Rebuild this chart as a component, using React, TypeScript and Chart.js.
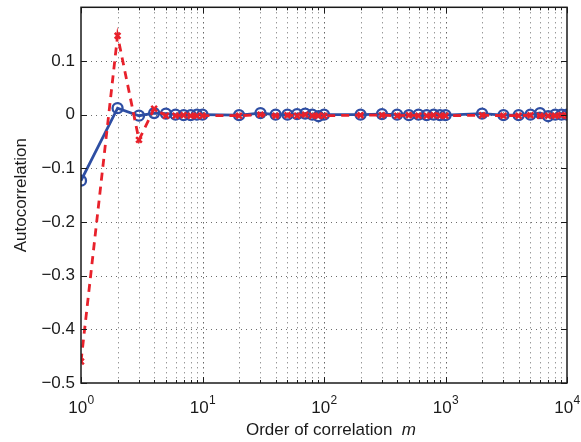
import React, { useEffect, useRef } from "react";
import { Chart, registerables } from "chart.js";

Chart.register(...registerables);

const mValues = [1, 2, 3, 4, 5, 6, 7, 8, 9, 10, 20, 30, 40, 50, 60, 70, 80, 90, 100, 200, 300, 400, 500, 600, 700, 800, 900, 1000, 2000, 3000, 4000, 5000, 6000, 7000, 8000, 9000, 10000];
const blueValues = [-0.123, 0.012, -0.002, 0.003, 0.002, 0.0, -0.001, -0.001, 0.0, 0.0, -0.001, 0.003, 0.0, 0.0, 0.001, 0.002, 0.0, -0.003, 0.0, 0.0, 0.001, 0.0, -0.001, 0.0, -0.001, 0.0, -0.001, -0.001, 0.002, -0.001, -0.001, 0.0, 0.003, -0.003, 0.0, 0.0, 0.0];
const redValues = [-0.46, 0.147, -0.047, 0.011, -0.002, -0.002, -0.001, -0.002, -0.002, -0.002, -0.002, 0.0, -0.002, -0.001, -0.002, 0.0, -0.002, -0.002, -0.002, -0.001, -0.001, -0.002, -0.001, -0.002, -0.002, -0.001, -0.002, -0.002, -0.001, -0.002, -0.002, -0.001, -0.002, -0.002, -0.002, -0.001, -0.002];
const xDecades = [0, 1, 2, 3, 4];
const yTicks = [-0.5, -0.4, -0.3, -0.2, -0.1, 0, 0.1, 0.2];
const xTitle = "Order of correlation  ";
const xTitleVar = "m";
const yTitle = "Autocorrelation";

const FONT = "'Liberation Sans', Arial, Helvetica, sans-serif";
const TEXT = "#1a1a1a";

const decorPlugin = {
  id: "decor",
  beforeDatasetsDraw(chart: any) {
    const { ctx, chartArea: a, scales } = chart;
    const xs = scales.x;
    const ys = scales.y;
    ctx.save();
    ctx.strokeStyle = "rgba(60,60,60,0.75)";
    ctx.lineWidth = 1;
    ctx.setLineDash([1, 4]);
    for (let p = 0; p < 4; p++) {
      for (let k = 1; k <= 10; k++) {
        const v = k * Math.pow(10, p);
        const x = Math.round(xs.getPixelForValue(v)) + 0.5;
        if (x <= a.left + 1 || x >= a.right - 1) continue;
        ctx.beginPath();
        ctx.moveTo(x, a.top);
        ctx.lineTo(x, a.bottom);
        ctx.stroke();
      }
    }
    for (const t of yTicks) {
      const y = Math.round(ys.getPixelForValue(t)) + 0.5;
      if (y <= a.top + 1 || y >= a.bottom - 1) continue;
      ctx.beginPath();
      ctx.moveTo(a.left, y);
      ctx.lineTo(a.right, y);
      ctx.stroke();
    }
    ctx.restore();
  },
  afterDraw(chart: any) {
    const { ctx, chartArea: a, scales } = chart;
    const xs = scales.x;
    const ys = scales.y;
    ctx.save();
    ctx.setLineDash([]);
    ctx.strokeStyle = "#1a1a1a";
    ctx.lineWidth = 1.5;
    ctx.strokeRect(a.left, a.top, a.right - a.left, a.bottom - a.top);
    ctx.lineWidth = 1;
    for (let p = 0; p < 4; p++) {
      for (let k = 1; k <= 10; k++) {
        const v = k * Math.pow(10, p);
        const x = Math.round(xs.getPixelForValue(v)) + 0.5;
        const len = k === 1 || k === 10 ? 6 : 3;
        ctx.beginPath();
        ctx.moveTo(x, a.bottom);
        ctx.lineTo(x, a.bottom - len);
        ctx.moveTo(x, a.top);
        ctx.lineTo(x, a.top + len);
        ctx.stroke();
      }
    }
    for (const t of yTicks) {
      const y = Math.round(ys.getPixelForValue(t)) + 0.5;
      ctx.beginPath();
      ctx.moveTo(a.left, y);
      ctx.lineTo(a.left + 6, y);
      ctx.moveTo(a.right, y);
      ctx.lineTo(a.right - 6, y);
      ctx.stroke();
    }
    ctx.fillStyle = TEXT;
    ctx.textBaseline = "alphabetic";
    ctx.textAlign = "left";
    for (const p of xDecades) {
      const x = xs.getPixelForValue(Math.pow(10, p));
      ctx.font = `17px ${FONT}`;
      const w1 = ctx.measureText("10").width;
      ctx.font = `12px ${FONT}`;
      const w2 = ctx.measureText(String(p)).width;
      const start = x - (w1 + w2) / 2;
      ctx.font = `17px ${FONT}`;
      ctx.fillText("10", start, 413);
      ctx.font = `12px ${FONT}`;
      ctx.fillText(String(p), start + w1 + 0.5, 404);
    }
    ctx.font = `17px ${FONT}`;
    const wt = ctx.measureText(xTitle).width;
    ctx.font = `italic 17px ${FONT}`;
    const wm = ctx.measureText(xTitleVar).width;
    const cx = 331;
    const sx = cx - (wt + wm) / 2;
    ctx.font = `17px ${FONT}`;
    ctx.fillText(xTitle, sx, 435);
    ctx.font = `italic 17px ${FONT}`;
    ctx.fillText(xTitleVar, sx + wt, 435);
    ctx.font = `17px ${FONT}`;
    ctx.translate(26, (a.top + a.bottom) / 2);
    ctx.rotate(-Math.PI / 2);
    ctx.textAlign = "center";
    ctx.fillText(yTitle, 0, 0);
    ctx.restore();
  },
};

export default function App() {
  const ref = useRef<HTMLCanvasElement | null>(null);
  useEffect(() => {
    if (!ref.current) return;
    const chart = new Chart(ref.current, {
      type: "line",
      data: {
        labels: mValues,
        datasets: [
          {
            label: "red",
            data: mValues.map((m, i) => ({ x: m, y: redValues[i] })),
            borderColor: "#e8212b",
            backgroundColor: "#e8212b",
            borderWidth: 2.8,
            borderDash: [8, 6],
            pointStyle: "crossRot",
            pointRadius: 4,
            pointBorderWidth: 2.5,
            pointBorderColor: "#e8212b",
            tension: 0,
          },
          {
            label: "blue",
            data: mValues.map((m, i) => ({ x: m, y: blueValues[i] })),
            borderColor: "#2e4ea3",
            backgroundColor: "rgba(0,0,0,0)",
            borderWidth: 2.8,
            pointStyle: "circle",
            pointRadius: 5,
            pointBorderWidth: 2.3,
            pointBorderColor: "#2e4ea3",
            pointBackgroundColor: "rgba(0,0,0,0)",
            tension: 0,
          },
        ],
      },
      options: {
        responsive: false,
        animation: false,
        events: [],
        layout: { padding: { left: 0, right: 14, top: 5, bottom: 0 } },
        plugins: { legend: { display: false }, tooltip: { enabled: false }, title: { display: false } },
        scales: {
          x: {
            type: "logarithmic",
            min: 1,
            max: 10000,
            grid: { display: false, drawTicks: false },
            border: { display: false },
            ticks: { display: false },
            afterFit: (s: any) => {
              s.height = 59;
              s.paddingLeft = 0;
              s.paddingRight = 0;
            },
          },
          y: {
            type: "linear",
            min: -0.5,
            max: 0.2,
            grid: { display: false, drawTicks: false },
            border: { display: false },
            ticks: {
              stepSize: 0.1,
              padding: 6,
              color: TEXT,
              font: { family: FONT, size: 17 },
              callback: (v: any) => {
                const r = Math.round(Number(v) * 10) / 10;
                if (r > 0.15) return "";
                if (r === 0) return "0";
                return (r < 0 ? "\u2212" : "") + Math.abs(r).toFixed(1);
              },
            },
            afterFit: (s: any) => {
              s.width = 81;
              s.paddingTop = 0;
              s.paddingBottom = 0;
            },
          },
        },
      },
      plugins: [decorPlugin],
    });
    return () => chart.destroy();
  }, []);
  return (
    <div style={{ position: "absolute", left: 0, top: 0, width: 581, height: 442, background: "#fff" }}>
      <canvas ref={ref} width={581} height={442} style={{ display: "block" }} />
    </div>
  );
}
